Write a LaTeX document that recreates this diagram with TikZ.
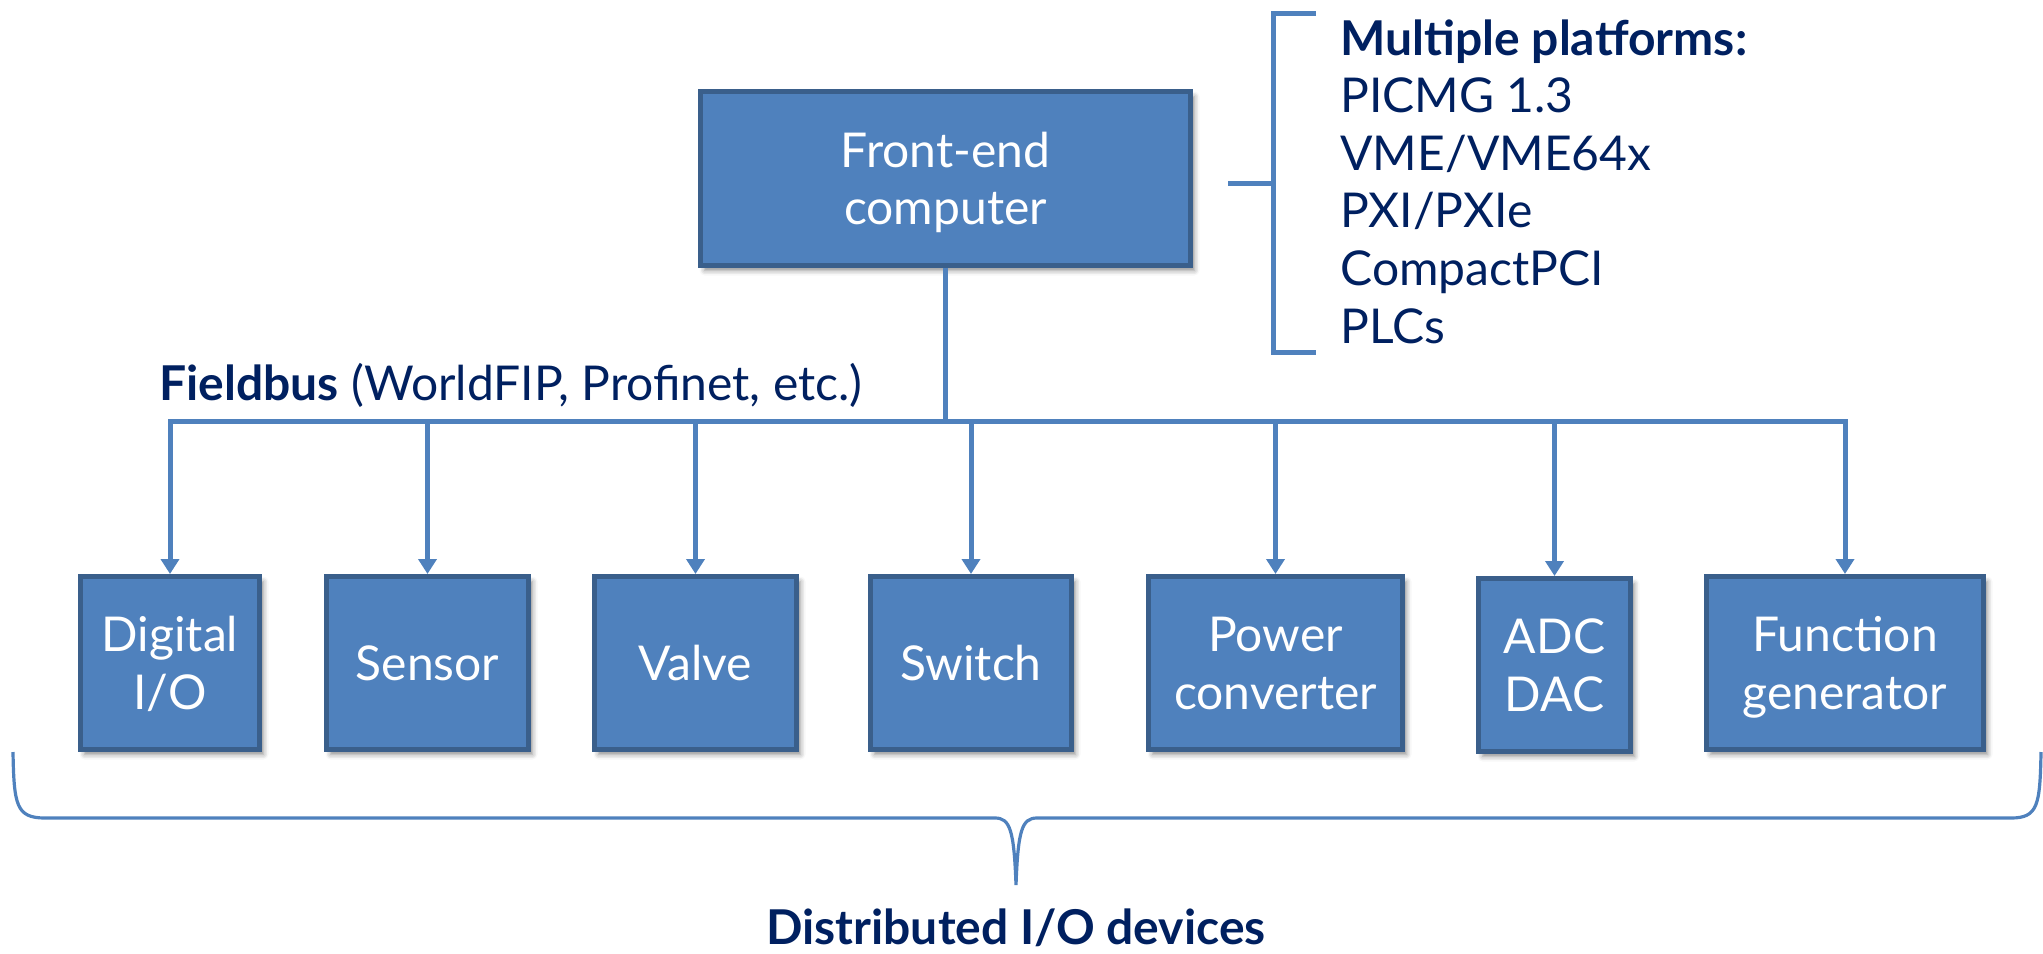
\documentclass[tikz,border=0pt]{standalone}
\usepackage{fontspec}
\setmainfont{Lato}
\usetikzlibrary{arrows.meta,shadows.blur}
\definecolor{boxfill}{HTML}{4F81BD}
\definecolor{boxedge}{HTML}{3A5F8B}
\definecolor{linkblue}{HTML}{4F81BD}
\definecolor{navy}{HTML}{002060}

\begin{document}
\begin{tikzpicture}[x=0.5pt,y=-0.5pt,
  box/.style={draw=boxedge, fill=boxfill, line width=2.5pt, text=white,
    align=center, font=\fontsize{24}{28.8}\selectfont,
    minimum height=86.5pt, inner sep=0pt, text depth=0pt,
    blur shadow={shadow xshift=2pt, shadow yshift=-2.5pt,
      shadow blur radius=2.5pt, shadow opacity=45}},
  link/.style={draw=linkblue, line width=2.5pt},
  feed/.style={link, -{Triangle[width=9pt,length=7.5pt]}},
  label/.style={text=navy, font=\fontsize{24}{28.8}\selectfont, inner sep=0pt},
]
\useasboundingbox (0,0) rectangle (2043,953);

% front-end computer
\node[box, minimum width=245pt, minimum height=87pt] (fe) at (945.5,178.5) {Front-end\\computer};

% distributed devices
\node[box, minimum width=89.5pt] (dio) at (170,663)    {Digital\\I/O};
\node[box, minimum width=101pt]  (sen) at (427.5,663)  {Sensor};
\node[box, minimum width=101pt]  (val) at (695.5,663)  {Valve};
\node[box, minimum width=100.5pt](swi) at (971,663)    {Switch};
\node[box, minimum width=127pt]  (pwr) at (1275.5,663) {Power\\converter};
\node[box, minimum width=76pt]   (adc) at (1554.5,665) {ADC\\DAC};
\node[box, minimum width=138.5pt](fg)  at (1845,663)   {Function\\generator};

% fieldbus
\coordinate (bus) at (945,421);
\draw[link] (fe.south) -- (fe.south |- bus);
\draw[link, line cap=rect] (dio.north |- bus) -- (fg.north |- bus);
\foreach \n in {dio,sen,val,swi,pwr,adc,fg}
  \draw[feed] (\n.north |- bus) -- (\n.north);

\node[label, anchor=base west] (fb) at (159,400)
  {\textbf{Fieldbus} (WorldFIP, Profinet, etc.)};

% platform list with its bracket
\coordinate (brk) at (1273,183);
\coordinate (brktip) at (1228,183);
\draw[link] (1316,13) -- (1273,13) -- (1273,352) -- (1316,352);
\draw[link] (brktip) -- (brk);
\node[label, anchor=north west, align=left] (plat) at (1340,19)
  {\textbf{Multiple platforms:}\\PICMG 1.3\\VME/VME64x\\PXI/PXIe\\CompactPCI\\PLCs};

% brace under the devices
\coordinate (bl) at (13,752);
\coordinate (br) at (2041,752);
\coordinate (btip) at (1016,885);
\draw[draw=linkblue, line width=1.6pt]
  (bl) .. controls (14,805) and (16,818) .. (45,818)
  -- (995,818) .. controls (1010,818) and (1014,830) .. (btip)
  .. controls (1018,830) and (1022,818) .. (1037,818)
  -- (2011,818) .. controls (2038,818) and (2040,805) .. (br);
\node[label, anchor=base] (dist) at (1016,944) {\textbf{Distributed I/O devices}};
\end{tikzpicture}
\end{document}
